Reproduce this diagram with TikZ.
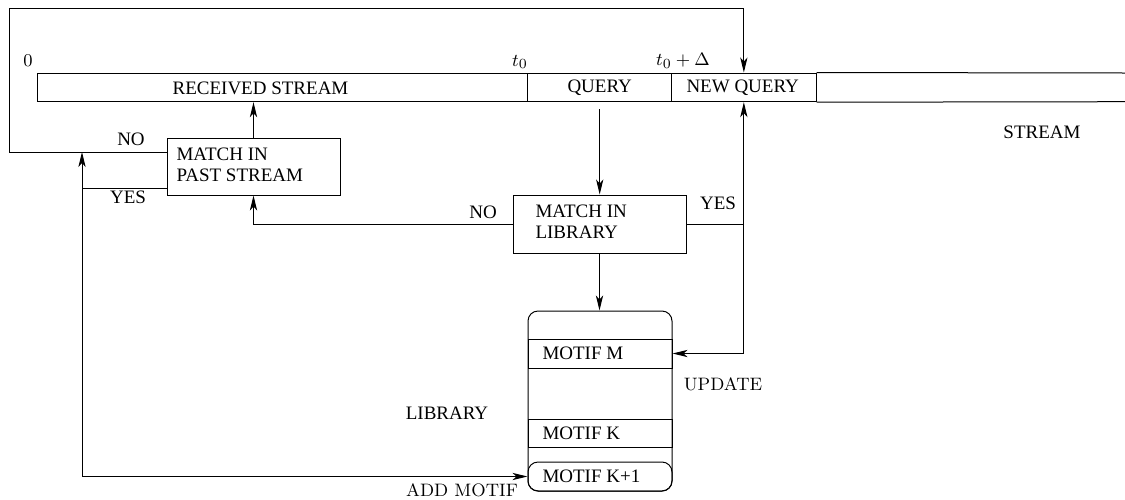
\documentclass[tikz,border=0pt]{standalone}
\usepackage{fontspec}
\newfontfamily\tms{Liberation Serif}
\usetikzlibrary{arrows.meta,fit}
\begin{document}
\begin{tikzpicture}[x=0.5pt,y=-0.5pt,
  line width=0.5pt,
  txt/.style={font=\tms\fontsize{9.5}{10.5}\selectfont, inner sep=0pt},
  cmtxt/.style={font=\rmfamily\fontsize{9}{10}\selectfont, inner sep=0pt},
  box/.style={draw, rectangle, inner sep=0pt},
  rbox/.style={box, rounded corners=5pt},
  arr/.style={-{Stealth[length=7.5pt,width=3.6pt,inset=2pt]}}]
\useasboundingbox (0,0) rectangle (1125,499);

% stream bar
\node[box, fit={(37.7,73)(527.7,101.7)}] (recv) {};
\node[txt] (recvt) at (260.5,88) {RECEIVED STREAM};
\node[box, fit={(527.7,73)(671.7,101.7)}] (query) {};
\node[txt] (queryt) at (599.7,88) {QUERY};
\node[box, fit={(671.7,73)(816,101.7)}] (nq) {};
\node[txt] (nqt) at (742.7,88) {NEW QUERY};
\draw (nq.north east) -- (1125,73);
\draw (nq.south east) -- (1125,101.7);

% time labels
\node[font=\fontsize{9}{10}\selectfont, inner sep=0pt] (l0) at (28,61) {$0$};
\node[font=\fontsize{9.5}{10}\selectfont, inner sep=0pt] (lt0) at (520,62) {$t_0$};
\node[font=\fontsize{9.5}{10}\selectfont, inner sep=0pt] (lt0d) at (683,61) {$t_0+\Delta$};
\node[txt] (lstream) at (1042,132) {STREAM};

% match boxes
\node[box, fit={(167,138)(340,195)}] (mpast) {};
\node[txt, anchor=west, align=left] (mpastt) at (176,164.5) {MATCH IN\\PAST STREAM};
\node[box, fit={(513,195)(686,253)}] (mlib) {};
\node[txt, anchor=west, align=left] (mlibt) at (535,221.5) {MATCH IN\\LIBRARY};

% library
\node[rbox, fit={(528,311)(672,491)}] (lib) {};
\node[box, fit={(528,339)(672,368)}] (mm) {};
\node[txt, anchor=west] (mmt) at (542,353.5) {MOTIF M};
\node[box, fit={(528,419)(672,447)}] (mk) {};
\node[txt, anchor=west] (mkt) at (542,433) {MOTIF K};
\node[rbox, fit={(528,462)(672,491)}] (kp1) {};
\node[txt, anchor=west] (kp1t) at (542,476.5) {MOTIF K+1};

\node[txt] (llib) at (447,413) {LIBRARY};
\node[cmtxt] (lupd) at (723,384) {UPDATE};
\node[cmtxt] (ladd) at (462,490) {ADD MOTIF};

% labels on branches
\node[txt] (no1) at (131,139) {NO};
\node[txt] (yes1) at (128,197) {YES};
\node[txt] (no2) at (483,212) {NO};
\node[txt] (yes2) at (718,203) {YES};

% coordinates
\coordinate (noL) at (9,152);
\coordinate (topL) at (9,8);
\coordinate (yesL) at (82,188);
\coordinate (addL) at (82,476.5);
\coordinate (qs) at (599.7,109);

% connectors
\draw[arr] (qs) -- (qs |- mlib.north);
\draw[arr] (mlib.south) -- (mlib.south |- lib.north);
\draw[arr] (mlib.west) -| (mpast.south);
\draw[arr] (mpast.north) -- (mpast.north |- recv.south);
\draw[arr] (mpast.west |- noL) -- (noL) -- (topL) -| (nq.north);
\draw (mpast.west |- yesL) -- (yesL);
\draw[arr] (addL) -- (addL |- noL);
\draw[arr] (addL) -- (kp1.west);
\draw (mlib.east) -- (mlib.east -| nq.south);
\draw[arr] (nq.south |- mm.east) -- (nq.south);
\draw[arr] (nq.south |- mm.east) -- (mm.east);
\end{tikzpicture}
\end{document}
